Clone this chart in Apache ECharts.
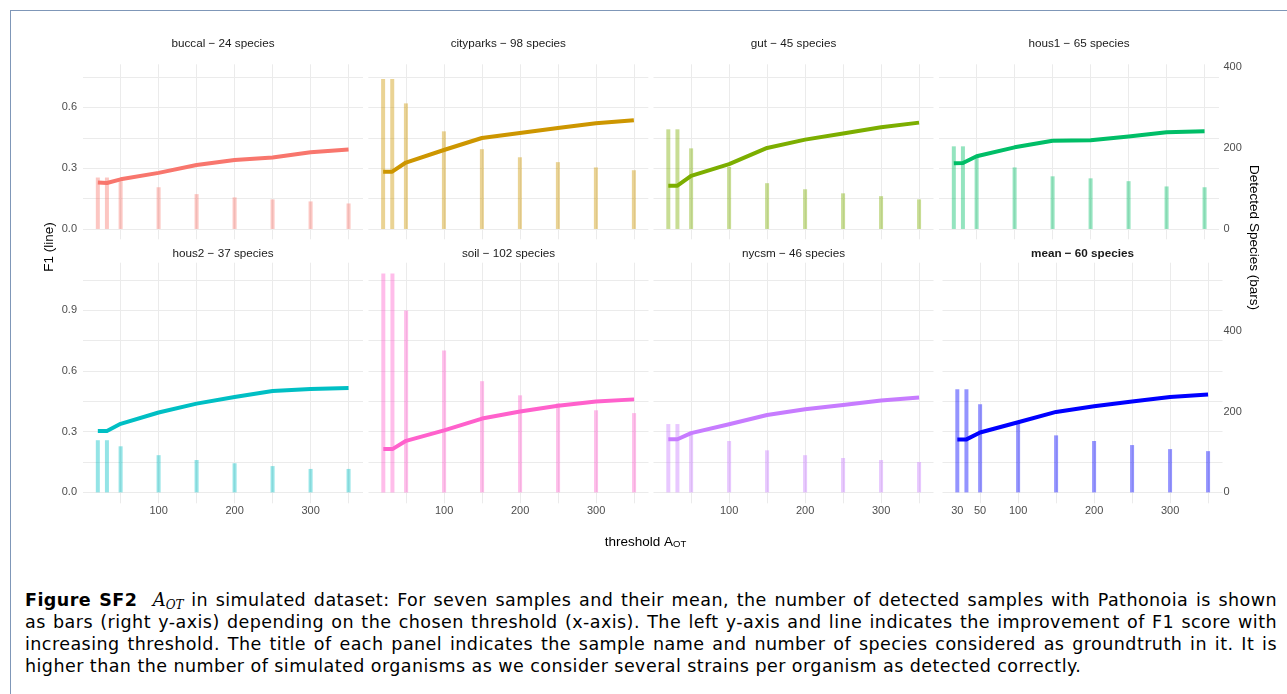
<!DOCTYPE html>
<html>
<head>
<meta charset="utf-8">
<script src="https://cdn.jsdelivr.net/npm/echarts@6/dist/echarts.min.js"></script>
<style>
  html, body { margin: 0; padding: 0; background: #fff; }
  body { width: 1287px; height: 694px; position: relative; overflow: hidden; }
  #frame { position: absolute; left: 10px; top: 10px; width: 1400px; height: 800px;
           border-top: 1.5px solid #7f97b8; border-left: 1.5px solid #7f97b8; }
  #chart { position: absolute; left: 0; top: 0; width: 1287px; height: 570px; }
  #caption { position: absolute; left: 25px; top: 589px; width: 1252px;
             font-family: 'DejaVu Sans', sans-serif; font-size: 17.5px; letter-spacing: 0.45px;
             line-height: 22px; color: #000; }
  #caption .j { text-align: justify; text-align-last: justify; }
  #caption .m { font-family: 'DejaVu Serif', serif; font-style: italic; font-size: 18px; letter-spacing: 0; }
  #caption .m sub { font-size: 12px; vertical-align: -3px; line-height: 0; }
</style>
</head>
<body>
<div id="frame"></div>
<div id="chart"></div>
<div id="caption">
  <div class="j"><b>Figure SF2</b>&nbsp; <span class="m">A<sub>OT</sub></span> in simulated dataset: For seven samples and their mean, the number of detected samples with Pathonoia is shown</div>
  <div class="j">as bars (right y-axis) depending on the chosen threshold (x-axis). The left y-axis and line indicates the improvement of F1 score with</div>
  <div class="j">increasing threshold. The title of each panel indicates the sample name and number of species considered as groundtruth in it. It is</div>
  <div>higher than the number of simulated organisms as we consider several strains per organism as detected correctly.</div>
</div>
<script>
// 阈值（x 轴）
const thresholds = [20, 32, 50, 100, 150, 200, 250, 300, 350];

const panelNames = ['buccal', 'cityparks', 'gut', 'hous1', 'hous2', 'soil', 'nycsm', 'mean'];
const panelSpecies = [24, 98, 45, 65, 37, 102, 46, 60];
const panelColors = ['#F8766D', '#CD9600', '#7CAE00', '#00BE67', '#00BFC4', '#FF61CC', '#C77CFF', '#0000FF'];

// detected species (bars, right axis)
const buccalBars = [127, 127, 118, 103, 86, 78, 73, 68, 63];
const cityparksBars = [370, 370, 310, 241, 197, 177, 165, 152, 145];
const gutBars = [246, 246, 199, 153, 113, 98, 88, 81, 73];
const hous1Bars = [204, 204, 180, 152, 130, 125, 118, 105, 103];
const hous2Bars = [129, 129, 114, 92, 80, 72, 65, 58, 58];
const soilBars = [541, 541, 450, 351, 275, 240, 220, 203, 196];
const nycsmBars = [169, 169, 150, 127, 104, 92, 85, 80, 75];
const meanBars = [255, 255, 218, 172, 141, 127, 117, 107, 102];

// F1 (line, left axis)
const buccalF1 = [0.229, 0.227, 0.245, 0.277, 0.316, 0.341, 0.353, 0.379, 0.392];
const cityparksF1 = [0.283, 0.283, 0.328, 0.390, 0.449, 0.474, 0.499, 0.522, 0.537];
const gutF1 = [0.214, 0.214, 0.262, 0.320, 0.400, 0.441, 0.471, 0.502, 0.525];
const hous1F1 = [0.324, 0.326, 0.359, 0.403, 0.436, 0.438, 0.456, 0.478, 0.482];
const hous2F1 = [0.304, 0.304, 0.339, 0.395, 0.439, 0.472, 0.501, 0.511, 0.516];
const soilF1 = [0.214, 0.214, 0.255, 0.307, 0.365, 0.400, 0.428, 0.449, 0.460];
const nycsmF1 = [0.263, 0.263, 0.293, 0.337, 0.383, 0.411, 0.432, 0.454, 0.469];
const meanF1 = [0.262, 0.262, 0.296, 0.347, 0.398, 0.426, 0.449, 0.472, 0.484];

const barSets = [buccalBars, cityparksBars, gutBars, hous1Bars, hous2Bars, soilBars, nycsmBars, meanBars];
const f1Sets = [buccalF1, cityparksF1, gutF1, hous1F1, hous2F1, soilF1, nycsmF1, meanF1];

// 轴刻度
const xGridValues = [50, 100, 150, 200, 250, 300, 350];
const xLabelValues = [100, 200, 300];
const meanXLabelValues = [20, 50, 100, 200, 300];
const meanXLabelText = ['30', '50', '100', '200', '300'];
const yGridTop = [0, 0.15, 0.3, 0.45, 0.6, 0.75];
const yGridBottom = [0, 0.15, 0.3, 0.45, 0.6, 0.75, 0.9, 1.05];
const yLabelTop = [0, 0.3, 0.6];
const yLabelBottom = [0, 0.3, 0.6, 0.9];
const rightLabels = [0, 200, 400];

const f1Range = [[-0.051, 0.813], [-0.054, 1.136]];
const secFactor = 500;

// layout
const colLeft = [[83, 368.3, 653.5, 939], [83, 368.5, 653.5, 942.5]];
const rowTop = [64.3, 262.7];
const rowHeight = [175, 240.6];
const panelWidth = 280;

const FONT = "'Liberation Sans', Arial, sans-serif";
const gridLine = { color: '#ebebeb', width: 1 };

const chart = echarts.init(document.getElementById('chart'));

const grids = [], xAxes = [], yAxes = [], series = [], graphics = [];

for (let i = 0; i < 8; i++) {
  const row = i < 4 ? 0 : 1;
  const col = i % 4;
  const left = colLeft[row][col];
  grids.push({ left, top: rowTop[row], width: panelWidth, height: rowHeight[row] });

  let xLabel = { show: false };
  if (row === 1) {
    xLabel = {
      customValues: i === 7 ? meanXLabelValues : xLabelValues,
      color: '#4d4d4d', fontSize: 11, fontFamily: FONT, margin: 2,
      formatter: i === 7 ? (v => meanXLabelText[meanXLabelValues.indexOf(v)]) : (v => String(v))
    };
  }
  xAxes.push({
    gridIndex: i, type: 'value', min: 0.5, max: 369,
    axisLine: { show: false },
    axisTick: { show: false, customValues: xGridValues },
    splitLine: { show: true, lineStyle: gridLine },
    axisLabel: xLabel
  });

  const [lo, hi] = f1Range[row];
  yAxes.push({
    gridIndex: i, type: 'value', min: lo, max: hi, position: 'left',
    axisLine: { show: false },
    axisTick: { show: false, customValues: row === 0 ? yGridTop : yGridBottom },
    splitLine: { show: true, lineStyle: gridLine },
    axisLabel: col === 0 ? {
      customValues: row === 0 ? yLabelTop : yLabelBottom,
      formatter: v => v.toFixed(1),
      color: '#4d4d4d', fontSize: 11, fontFamily: FONT, margin: 6
    } : { show: false }
  });
  yAxes.push({
    gridIndex: i, type: 'value', min: lo * secFactor, max: hi * secFactor, position: 'right',
    axisLine: { show: false },
    axisTick: { show: false },
    splitLine: { show: false },
    axisLabel: col === 3 ? {
      customValues: rightLabels,
      color: '#4d4d4d', fontSize: 11, fontFamily: FONT, margin: row === 0 ? 4.5 : 1
    } : { show: false }
  });

  const color = panelColors[i];
  series.push({
    type: 'bar', xAxisIndex: i, yAxisIndex: 2 * i + 1,
    data: thresholds.map((t, k) => [t, barSets[i][k]]),
    barWidth: 4,
    itemStyle: { color, opacity: 0.42 },
    silent: true, z: 2
  });
  series.push({
    type: 'line', xAxisIndex: i, yAxisIndex: 2 * i,
    data: thresholds.map((t, k) => [t, f1Sets[i][k]]),
    symbol: 'none', showSymbol: false,
    lineStyle: { width: 4, color, cap: 'butt', join: 'round' },
    itemStyle: { color },
    silent: true, z: 3
  });

  // strip title
  graphics.push({
    type: 'text', x: left + panelWidth / 2, y: row === 0 ? 44 : 254,
    style: {
      text: `${panelNames[i]} \u2212 ${panelSpecies[i]} species`,
      fill: '#1a1a1a', font: `${i === 7 ? 'bold ' : ''}11.7px ${FONT}`,
      textAlign: 'center', textVerticalAlign: 'middle', align: 'center', verticalAlign: 'middle'
    }
  });
}

// axis titles
graphics.push({
  type: 'text', x: 49, y: 247, rotation: Math.PI / 2,
  style: { text: 'F1 (line)', fill: '#000', font: `13.5px ${FONT}`,
    textAlign: 'center', textVerticalAlign: 'middle', align: 'center', verticalAlign: 'middle' }
});
graphics.push({
  type: 'text', x: 1254, y: 237.5, rotation: -Math.PI / 2,
  style: { text: 'Detected Species (bars)', fill: '#000', font: `13.5px ${FONT}`,
    textAlign: 'center', textVerticalAlign: 'middle', align: 'center', verticalAlign: 'middle' }
});
graphics.push({
  type: 'text', x: 645.5, y: 540,
  style: {
    text: '{a|threshold A}{s|OT}',
    rich: {
      a: { fontSize: 13.5, fontFamily: FONT, fill: '#000', color: '#000', lineHeight: 18, verticalAlign: 'bottom' },
      s: { fontSize: 9.5, fontFamily: FONT, fill: '#000', color: '#000', lineHeight: 7, verticalAlign: 'bottom' }
    },
    textAlign: 'center', textVerticalAlign: 'middle', align: 'center', verticalAlign: 'middle'
  }
});

chart.setOption({
  animation: false,
  grid: grids,
  xAxis: xAxes,
  yAxis: yAxes,
  series,
  graphic: { elements: graphics }
});
</script>
</body>
</html>
